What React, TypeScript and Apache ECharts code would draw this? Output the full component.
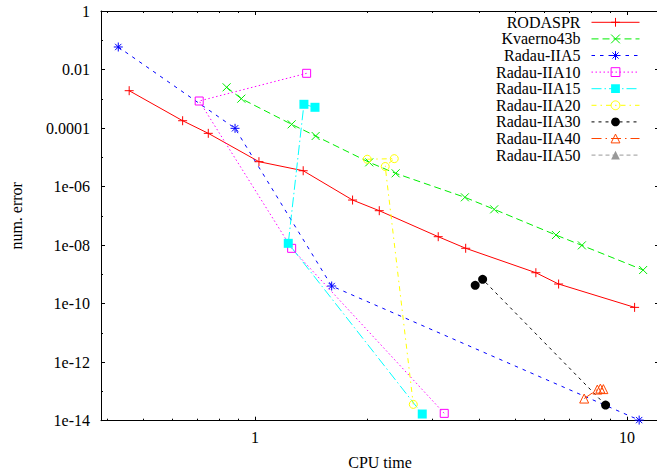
import React, { useEffect, useRef } from 'react';
import * as echarts from 'echarts';

// ---- data (CPU time [s], numerical error) ----
const rodasprTime = [0.459, 0.639, 0.749, 1.025, 1.348, 1.83, 2.159, 3.11, 3.686, 5.692, 6.553, 10.49];
const rodasprError = [1.89e-3, 1.78e-4, 6.6e-5, 7.1e-6, 3.48e-6, 3.47e-7, 1.5e-7, 1.94e-8, 7.8e-9, 1.14e-9, 4.68e-10, 7.46e-11];

const kvaernoTime = [0.839, 0.919, 1.255, 1.456, 2.029, 2.389, 3.668, 4.398, 6.446, 7.568, 11.06];
const kvaernoError = [2.47e-3, 1.01e-3, 1.34e-4, 5.35e-5, 6.74e-6, 2.84e-6, 4.3e-7, 1.67e-7, 2.21e-8, 9.8e-9, 1.41e-9];

const radau5Time = [0.429, 0.884, 1.608, 10.79];
const radau5Error = [5.89e-2, 9.8e-5, 4.0e-10, 1.05e-14];

const radau10Time = [1.377, 0.708, 1.255, 3.228];
const radau10Error = [7.43e-3, 8.4e-4, 7.76e-9, 1.78e-14];

const radau15Time = [1.45, 1.354, 1.229, 2.817];
const radau15Error = [5.12e-4, 6.48e-4, 1.15e-8, 1.69e-14];

const radau20Time = [2.004, 2.369, 2.24, 2.665];
const radau20Error = [8.6e-6, 9.0e-6, 4.85e-6, 3.61e-14];

const radau30Time = [3.91, 4.094, 8.765];
const radau30Error = [4.22e-10, 6.76e-10, 3.43e-14];

const radau40Time = [7.677, 8.329, 8.486, 8.645];
const radau40Error = [5.71e-14, 1.16e-13, 1.25e-13, 1.2e-13];

const radau50Time: number[] = [];
const radau50Error: number[] = [];

// ---- axes ----
const xTickValues = [1, 10];
const xTickLabels = ['1', '10'];
const xMinorTicks = [0.4, 0.5, 0.6, 0.7, 0.8, 0.9, 2, 3, 4, 5, 6, 7, 8, 9];
const yTickLabels = ['1', '0.01', '0.0001', '1e-06', '1e-08', '1e-10', '1e-12', '1e-14'];
const X_MIN = 0.3855;
const X_MAX = 12.2;
const Y_MIN = 1e-14;
const Y_MAX = 1;

const FONT = 'Liberation Serif';

const PLUS = 'path://M0,5L10,5M5,0L5,10';
const CROSS = 'path://M0,0L10,10M0,10L10,0';
const STAR = 'path://M0,5L10,5M5,0L5,10M1.5,1.5L8.5,8.5M1.5,8.5L8.5,1.5';

type Def = {
  name: string; time: number[]; error: number[]; color: string;
  dash: any; symbol: string; size: number; kind: 'stroke' | 'open' | 'filled';
};

const defs: Def[] = [
  { name: 'RODASPR', time: rodasprTime, error: rodasprError, color: '#ff0000', dash: 'solid', symbol: PLUS, size: 9, kind: 'stroke' },
  { name: 'Kvaerno43b', time: kvaernoTime, error: kvaernoError, color: '#00ee00', dash: [7, 4], symbol: CROSS, size: 8, kind: 'stroke' },
  { name: 'Radau-IIA5', time: radau5Time, error: radau5Error, color: '#0000ff', dash: [3.5, 5], symbol: STAR, size: 9, kind: 'stroke' },
  { name: 'Radau-IIA10', time: radau10Time, error: radau10Error, color: '#ff00ff', dash: [1.5, 2.5], symbol: 'rect', size: 8, kind: 'open' },
  { name: 'Radau-IIA15', time: radau15Time, error: radau15Error, color: '#00ffff', dash: [10, 3, 1.5, 3], symbol: 'rect', size: 9, kind: 'filled' },
  { name: 'Radau-IIA20', time: radau20Time, error: radau20Error, color: '#ffff00', dash: [5, 4, 1.5, 4], symbol: 'circle', size: 8, kind: 'open' },
  { name: 'Radau-IIA30', time: radau30Time, error: radau30Error, color: '#000000', dash: [3, 4], symbol: 'circle', size: 9, kind: 'filled' },
  { name: 'Radau-IIA40', time: radau40Time, error: radau40Error, color: '#ff4500', dash: [10, 4, 1.5, 4], symbol: 'triangle', size: 9, kind: 'open' },
  { name: 'Radau-IIA50', time: radau50Time, error: radau50Error, color: '#999999', dash: [4, 3], symbol: 'triangle', size: 9, kind: 'filled' },
];

const lg = (v: number) => Math.log10(v);

function itemStyleOf(d: Def) {
  if (d.kind === 'open') return { color: 'rgba(0,0,0,0)', borderColor: d.color, borderWidth: 1 };
  if (d.kind === 'filled') return { color: d.color, borderColor: d.color, borderWidth: 0 };
  return { color: d.color, borderColor: d.color, borderWidth: 1 };
}

export default function App() {
  const ref = useRef<HTMLDivElement>(null);
  useEffect(() => {
    if (!ref.current) return;
    const chart = echarts.init(ref.current, null, { renderer: 'svg' });
    const xMin = lg(X_MIN);
    const xMax = lg(X_MAX);
    const yMin = lg(Y_MIN);
    const yMax = lg(Y_MAX);
    const textBase = { fontFamily: FONT, fontSize: 16, color: '#000' };
    const xMajor = xTickValues.map(lg);
    const xMinor = xMinorTicks.map(lg);
    const baseX = {
      type: 'value', min: xMin, max: xMax, gridIndex: 0,
      splitLine: { show: false },
    };
    const baseY = {
      type: 'value', min: yMin, max: yMax, interval: 2,
      splitLine: { show: false },
      axisLine: { show: true, onZero: false, lineStyle: { color: '#000', width: 1 } },
      axisTick: { show: true, inside: true, length: 4, lineStyle: { color: '#000' } },
      minorTick: { show: true, splitNumber: 2, length: 2, lineStyle: { color: '#000' } },
    };
    const option: any = {
      animation: false,
      backgroundColor: '#fff',
      grid: { left: 101, top: 11, right: -2, bottom: 49.3, containLabel: false, outerBoundsMode: 'none' },
      legend: {
        orient: 'vertical', right: 17, top: 14.3, align: 'right',
        itemWidth: 48, itemHeight: 11, itemGap: 0.6, padding: 0,
        selectedMode: false,
        textStyle: { ...textBase, padding: [0, 6, 0, 0] },
        data: defs.map((d) => ({
          name: d.name,
          itemStyle: { ...itemStyleOf(d), borderWidth: d.kind === 'filled' ? 0 : 1 },
          lineStyle: { color: d.color, width: 1, type: d.dash },
        })),
      },
      xAxis: [
        {
          ...baseX, position: 'bottom',
          axisLine: { show: true, onZero: false, lineStyle: { color: '#000', width: 1 } },
          axisTick: { show: true, inside: true, length: 4, customValues: xMajor, lineStyle: { color: '#000' } },
          axisLabel: {
            show: true, customValues: xMajor, margin: 9, ...textBase,
            formatter: (v: number) => {
              const i = xMajor.findIndex((m) => Math.abs(m - v) < 1e-6);
              return i >= 0 ? xTickLabels[i] : '';
            },
          },
          name: 'CPU time', nameLocation: 'middle', nameGap: 34, nameTextStyle: textBase,
        },
        {
          ...baseX, position: 'bottom',
          axisLine: { show: false, onZero: false },
          axisTick: { show: true, inside: true, length: 2, customValues: xMinor, lineStyle: { color: '#000' } },
          axisLabel: { show: false },
        },
        {
          ...baseX, position: 'top',
          axisLine: { show: true, onZero: false, lineStyle: { color: '#000', width: 1 } },
          axisTick: { show: true, inside: true, length: 4, customValues: xMajor, lineStyle: { color: '#000' } },
          axisLabel: { show: false },
        },
        {
          ...baseX, position: 'top',
          axisLine: { show: false, onZero: false },
          axisTick: { show: true, inside: true, length: 2, customValues: xMinor, lineStyle: { color: '#000' } },
          axisLabel: { show: false },
        },
      ],
      yAxis: [
        {
          ...baseY, position: 'left',
          axisLabel: {
            show: true, margin: 11, ...textBase,
            formatter: (v: number) => {
              const i = Math.round(-v / 2);
              return yTickLabels[i] ?? '';
            },
          },
          name: 'num. error', nameLocation: 'middle', nameRotate: 90, nameGap: 77, nameTextStyle: textBase,
        },
        {
          ...baseY, position: 'right',
          axisLabel: { show: false },
        },
      ],
      series: defs.map((d) => ({
        name: d.name,
        type: 'line',
        xAxisIndex: 0,
        yAxisIndex: 0,
        data: d.time.map((t, i) => [lg(t), lg(d.error[i])]),
        symbol: d.symbol,
        symbolSize: d.size,
        showSymbol: true,
        showAllSymbol: true,
        silent: true,
        clip: true,
        lineStyle: { color: d.color, width: 1, type: d.dash },
        itemStyle: itemStyleOf(d),
        emphasis: { disabled: true },
      })),
    };
    chart.setOption(option);
    return () => chart.dispose();
  }, []);
  return (
    <div
      ref={ref}
      style={{ position: 'fixed', left: 0, top: 0, width: 657, height: 470, background: '#fff' }}
    />
  );
}
